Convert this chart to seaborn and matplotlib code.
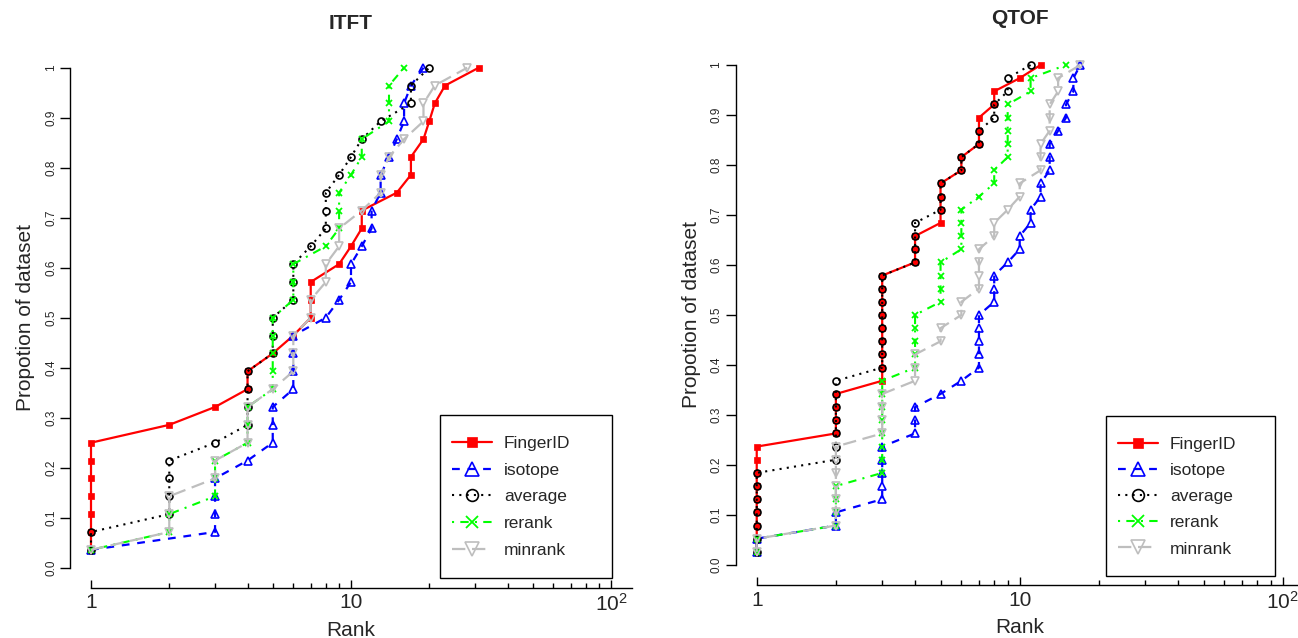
import matplotlib
matplotlib.use("Agg")
import numpy as np
import pandas as pd
import matplotlib.pyplot as plt
import seaborn as sns
from matplotlib.patches import Rectangle
from matplotlib.ticker import FixedLocator, NullFormatter

sns.set_theme(style="ticks")
plt.rcParams["font.family"] = ["Liberation Sans", "DejaVu Sans"]
plt.rcParams["mathtext.fontset"] = "custom"
plt.rcParams["mathtext.rm"] = "Liberation Sans"

# Rank of the correct candidate for every compound, per scoring method
methods = ["FingerID", "isotope", "average", "rerank", "minrank"]

itft_fingerid = [1, 1, 1, 1, 1, 1, 1, 2, 3, 4, 4, 5, 6, 7, 7, 7, 9, 10, 11, 11,
                 15, 17, 17, 19, 20, 21, 23, 31]
itft_isotope = [1, 3, 3, 3, 3, 4, 5, 5, 5, 6, 6, 6, 6, 8, 9, 10, 10, 11, 12, 12,
                13, 13, 14, 15, 16, 16, 17, 19]
itft_average = [1, 1, 2, 2, 2, 2, 3, 4, 4, 4, 4, 5, 5, 5, 6, 6, 6, 7, 8, 8, 8,
                9, 10, 11, 13, 17, 17, 20]
itft_rerank = [1, 2, 2, 3, 3, 3, 4, 4, 4, 5, 5, 5, 5, 5, 6, 6, 6, 8, 9, 9, 9,
               10, 11, 11, 14, 14, 14, 16]
itft_minrank = [1, 2, 2, 2, 3, 3, 4, 4, 4, 5, 6, 6, 6, 7, 7, 8, 8, 9, 9, 11,
                13, 13, 14, 16, 19, 19, 21, 28]

qtof_fingerid = [1, 1, 1, 1, 1, 1, 1, 1, 1, 2, 2, 2, 2, 3, 3, 3, 3, 3, 3, 3, 3, 3,
                 4, 4, 4, 5, 5, 5, 5, 6, 6, 7, 7, 7, 8, 8, 10, 12]
qtof_isotope = [1, 1, 2, 2, 3, 3, 3, 3, 3, 4, 4, 4, 5, 6, 7, 7, 7, 7, 7, 8, 8, 8,
                9, 10, 10, 11, 11, 12, 12, 13, 13, 13, 14, 15, 15, 16, 16, 17]
qtof_average = [1, 1, 1, 1, 1, 1, 1, 2, 2, 2, 2, 2, 2, 2, 3, 3, 3, 3, 3, 3, 3, 3,
                4, 4, 4, 4, 5, 5, 5, 6, 6, 7, 7, 8, 8, 9, 9, 11]
qtof_rerank = [1, 1, 2, 2, 2, 2, 3, 3, 3, 3, 3, 3, 3, 3, 4, 4, 4, 4, 4, 5, 5, 5, 5,
               6, 6, 6, 6, 7, 8, 8, 9, 9, 9, 9, 9, 11, 11, 15]
qtof_minrank = [1, 1, 2, 2, 2, 2, 2, 2, 2, 3, 3, 3, 3, 4, 4, 4, 5, 5, 6, 6, 7, 7,
                7, 7, 8, 8, 9, 10, 10, 12, 12, 12, 13, 13, 13, 14, 14, 17]

panels = [
    ("ITFT", [itft_fingerid, itft_isotope, itft_average, itft_rerank, itft_minrank]),
    ("QTOF", [qtof_fingerid, qtof_isotope, qtof_average, qtof_rerank, qtof_minrank]),
]

# Line / marker appearance per method (R-like pch and lty)
styles = {
    "FingerID": dict(color="#FF0000", marker="s", markersize=4.2, markerfacecolor="#FF0000",
                     markeredgecolor="#FF0000", markeredgewidth=0.5, linestyle="-", linewidth=1.6),
    "isotope": dict(color="#0000FF", marker="^", markersize=5.6, markerfacecolor="none",
                    markeredgecolor="#0000FF", markeredgewidth=1.2, linestyle=(0, (3.5, 3.5)),
                    linewidth=1.6),
    "average": dict(color="#000000", marker="o", markersize=5.0, markerfacecolor="none",
                    markeredgecolor="#000000", markeredgewidth=1.2, linestyle=(0, (1, 2.5)),
                    linewidth=1.5),
    "rerank": dict(color="#00FF00", marker="x", markersize=5.0, markerfacecolor="none",
                   markeredgecolor="#00FF00", markeredgewidth=1.3, linestyle=(0, (1, 3, 4, 3)),
                   linewidth=1.5),
    "minrank": dict(color="#BEBEBE", marker="v", markersize=5.6, markerfacecolor="none",
                    markeredgecolor="#BEBEBE", markeredgewidth=1.2, linestyle=(0, (6, 3)),
                    linewidth=1.6),
}

W, H = 1298, 638
fig = plt.figure(figsize=(W / 100, H / 100), dpi=100)

# Plot regions in pixels: (left, top, width, height)
regions = {
    "ITFT": (70.2, 47.7, 561.6, 540.0),
    "QTOF": (735.7, 45.0, 568.0, 540.0),
}
# Legend boxes in pixels: (left, top, right, bottom)
legend_box = {"ITFT": (440, 415, 612, 578), "QTOF": (1106, 416, 1275, 576)}
legend_spacing = {"ITFT": 0.66, "QTOF": 0.63}
title_pad = {"ITFT": 13.5, "QTOF": 15.0}

xmin, xmax = 10 ** -0.08, 10 ** 2.08

for name, series in panels:
    l, t, w, h = regions[name]
    ax = fig.add_axes([l / W, 1 - (t + h) / H, w / W, h / H])
    for method, ranks in zip(methods, series):
        r = np.sort(np.asarray(ranks, dtype=float))
        df = pd.DataFrame({"Rank": r, "Proportion": np.arange(1, len(r) + 1) / len(r)})
        sns.lineplot(data=df, x="Rank", y="Proportion", ax=ax, estimator=None,
                     sort=False, errorbar=None, label=method, legend=False,
                     **styles[method])

    ax.set_xscale("log")
    ax.set_xlim(xmin, xmax)
    ax.set_ylim(-0.04, 1.04)
    for side in ("top", "right"):
        ax.spines[side].set_visible(False)
    for side in ("left", "bottom"):
        ax.spines[side].set_color("black")
        ax.spines[side].set_linewidth(1.0)
    ax.spines["left"].set_bounds(0, 1)
    ax.spines["bottom"].set_bounds(1, xmax)

    ax.xaxis.set_major_locator(FixedLocator([1, 10, 100]))
    ax.xaxis.set_minor_locator(FixedLocator([2, 3, 4, 5, 6, 7, 8, 9,
                                             20, 30, 40, 50, 60, 70, 80, 90]))
    ax.xaxis.set_minor_formatter(NullFormatter())
    ax.set_xticklabels(["1", "10", r"$\mathregular{10^2}$"])
    ax.tick_params(axis="x", which="major", direction="in", length=6, width=1,
                   pad=4, labelsize=15, color="black")
    ax.tick_params(axis="x", which="minor", direction="in", length=3.5, width=1,
                   color="black")

    yt = [0, 0.1, 0.2, 0.3, 0.4, 0.5, 0.6, 0.7, 0.8, 0.9, 1.0]
    ax.set_yticks(yt)
    ax.set_yticklabels(["0.0", "0.1", "0.2", "0.3", "0.4", "0.5", "0.6", "0.7",
                        "0.8", "0.9", "1"], rotation=90, va="center")
    ax.tick_params(axis="y", direction="out", length=7, width=1, pad=2.5,
                   labelsize=8.5, color="black")

    ax.set_xlabel("Rank", fontsize=15, labelpad=4)
    ax.set_ylabel("Propotion of dataset", fontsize=15, labelpad=7)
    ax.set_title(name, fontsize=15, fontweight="bold", pad=title_pad[name])
    ax.grid(False)

    bl, bt, br, bb = legend_box[name]
    ax.legend(loc="upper left", bbox_to_anchor=((bl + 12) / W, 1 - (bt + 21) / H),
              bbox_transform=fig.transFigure, fontsize=12.5, markerscale=1.7,
              frameon=False, borderpad=0, labelspacing=legend_spacing[name],
              handlelength=2.3, handletextpad=0.7, borderaxespad=0)
    fig.patches.append(Rectangle((bl / W, 1 - bb / H), (br - bl) / W, (bb - bt) / H,
                                 transform=fig.transFigure, fill=False,
                                 edgecolor="black", linewidth=1.0, zorder=5))

fig.savefig("out.png", dpi=100)
